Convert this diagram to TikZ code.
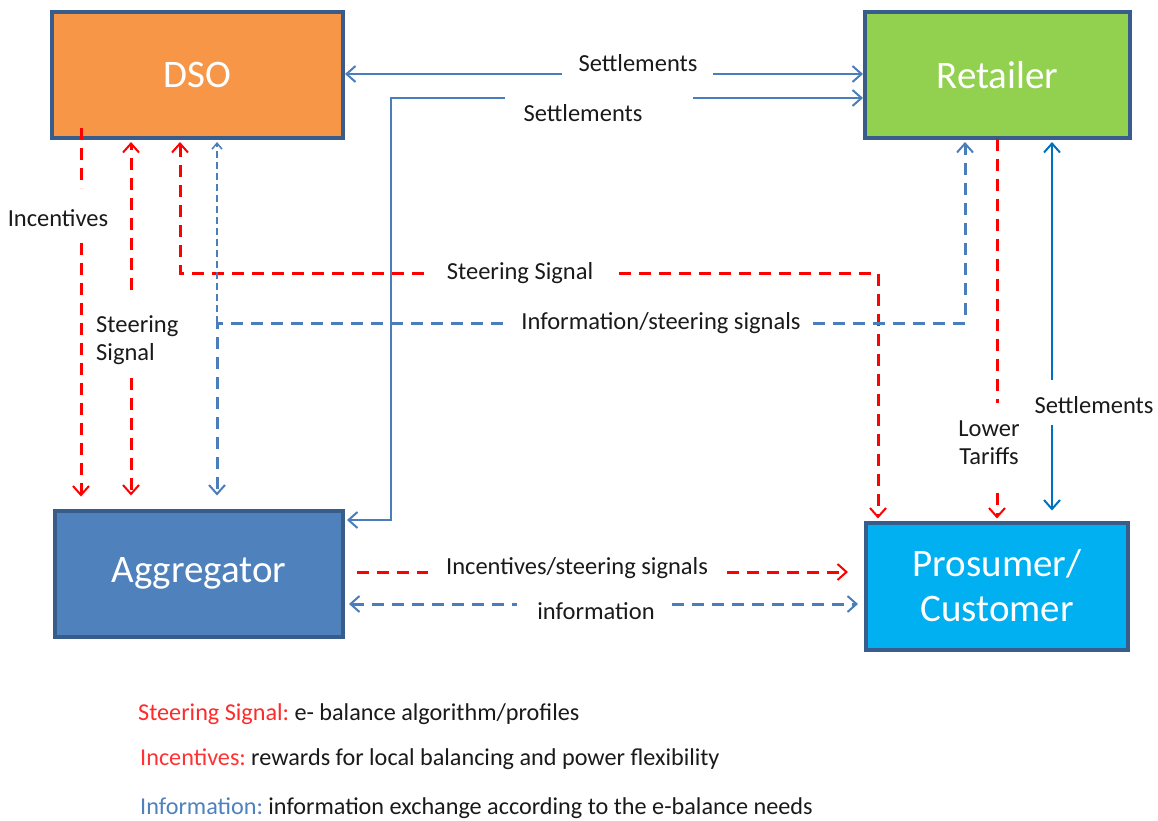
\documentclass[tikz,border=0pt]{standalone}
\usepackage{fontspec}
\setmainfont{Carlito}
\usetikzlibrary{arrows.meta,calc}
\definecolor{frameblue}{HTML}{385D8A}
\definecolor{dsofill}{HTML}{F79646}
\definecolor{retfill}{HTML}{92D050}
\definecolor{aggfill}{HTML}{4F81BD}
\definecolor{profill}{HTML}{00B0F0}
\definecolor{linkblue}{HTML}{4A7EBB}
\definecolor{settleblue}{HTML}{0070C0}
\definecolor{sigred}{HTML}{FF0000}
\definecolor{legred}{HTML}{FF2A2A}
\definecolor{leginc}{HTML}{FF3333}
\definecolor{legblue}{HTML}{4F81BD}
\definecolor{inktext}{HTML}{1A1A1A}
\begin{document}
\begin{tikzpicture}[x=1pt,y=-1pt,
  entity/.style={draw=frameblue, line width=4pt, inner sep=0pt, text=white,
    font=\fontsize{39}{45}\selectfont, align=center},
  tipv/.tip={Straight Barb[length=9pt,width=16pt,line width=2pt]},
  tips/.tip={Straight Barb[length=6pt,width=10pt,line width=1.5pt]},
  settle/.style={draw=linkblue, line width=2.5pt},
  settleR/.style={draw=settleblue, line width=2.5pt},
  sig/.style={draw=sigred, line width=3pt, dash pattern=on 12pt off 8pt},
  info/.style={draw=linkblue, line width=3pt, dash pattern=on 12pt off 8pt},
  infothin/.style={draw=linkblue, line width=1.5pt, dash pattern=on 7pt off 4pt},
  lbl/.style={text=inktext, font=\fontsize{24.5}{27}\selectfont, inner sep=0pt},
  legend/.style={text=inktext, font=\fontsize{24.2}{27}\selectfont, inner sep=0pt, anchor=west}]

\useasboundingbox (0,0) rectangle (1158,821);
\fill[white] (0,0) rectangle (1158,821);

% ---- actors ----
\node[entity, fill=dsofill, minimum width=291pt, minimum height=126pt] (dso) at (197.5,75) {DSO};
\node[entity, fill=retfill, minimum width=265pt, minimum height=126pt] (ret) at (997.5,75) {Retailer};
\node[entity, fill=aggfill, minimum width=288pt, minimum height=126pt] (agg) at (199,573.5) {Aggregator};
\node[entity, fill=profill, minimum width=262pt, minimum height=127pt] (pro) at (997,586) {Prosumer/\\[0pt]Customer};

% ---- labels ----
\node[lbl] (lsetA) at (638,63) {Settlements};
\node[lbl] (lsetB) at (583,113) {Settlements};
\node[lbl] (linc) at (58,218) {Incentives};
\node[lbl, anchor=west, align=left] (lsteer) at (96,340) {Steering\\[1pt]Signal};
\node[lbl] (lsig) at (520,273) {Steering Signal};
\node[lbl] (linfo) at (661,323) {Information/steering signals};
\node[lbl, align=center] (ltar) at (989,443) {Lower\\[1pt]Tariffs};
\node[lbl] (lsetC) at (1094,405) {Settlements};
\node[lbl] (lincsig) at (577,568) {Incentives/steering signals};
\node[lbl] (linf) at (596,611) {information};

% ---- break points around labels ----
\coordinate (a1) at (562,74);   \coordinate (a2) at (713,74);
\coordinate (b1) at (505,98);   \coordinate (b2) at (693,98);   \coordinate (bk) at (391,98);
\coordinate (i0) at (81,128);   \coordinate (i1) at (81,188);   \coordinate (i2) at (81,243);
\coordinate (s1) at (131,290);  \coordinate (s2) at (131,378);
\coordinate (g0) at (180,273);  \coordinate (g1) at (424,273);  \coordinate (g2) at (619,273);  \coordinate (g3) at (878,273);
\coordinate (f0) at (217,323);  \coordinate (f1) at (503,323);  \coordinate (f2) at (813,323);  \coordinate (f3) at (965,323);
\coordinate (t1) at (997,403);  \coordinate (t2) at (997,493);
\coordinate (c1) at (1052,380); \coordinate (c2) at (1052,425);
\coordinate (h1) at (428,572);  \coordinate (h2) at (727,572);
\coordinate (k1) at (517,604);  \coordinate (k2) at (672,604);

% ---- settlements DSO <-> Retailer ----
\draw[settle, tipv-] (dso.east |- a1) -- (a1);
\draw[settle, -tipv] (a2) -- (ret.west |- a2);

% ---- settlements Retailer <-> Aggregator ----
\draw[settle, -tipv] (b2) -- (ret.west |- b2);
\draw[settle, -tipv] (b1) -- (bk) -- (bk |- 0,520) -- ($(agg.east |- 0,520)+(2,0)$);

% ---- incentives DSO -> Aggregator ----
\draw[sig] (i0) -- (i1);
\draw[sig, -tipv] (i2) -- ($(agg.north -| i2)+(0,-12)$);

% ---- steering signal DSO <-> Aggregator ----
\draw[sig, -tipv] (s1) -- ($(dso.south -| s1)+(0,2)$);
\draw[sig, -tipv] (s2) -- ($(agg.north -| s2)+(0,-13)$);

% ---- steering signal DSO <-> Prosumer ----
\draw[sig, -tipv] (g1) -- (g0) -- ($(dso.south -| g0)+(0,2)$);
\draw[sig, -tipv] (g2) -- (g3) -- ($(pro.north -| g3)+(0,-2)$);

% ---- information DSO <-> Aggregator / Retailer ----
\draw[infothin, -tips] (f0) -- ($(dso.south -| f0)+(0,2)$);
\draw[info, -tipv] (f1) -- (f0) -- ($(agg.north -| f0)+(0,-13)$);
\draw[info, -tipv] (f2) -- (f3) -- ($(ret.south -| f3)+(0,2)$);

% ---- lower tariffs Retailer -> Prosumer ----
\draw[sig] ($(ret.south -| t1)+(0,-1)$) -- (t1);
\draw[sig, -tipv] (t2) -- ($(pro.north -| t2)+(0,-2)$);

% ---- settlements Retailer <-> Prosumer ----
\draw[settleR, -tipv] (c1) -- ($(ret.south -| c1)+(0,2)$);
\draw[settleR, -tipv] (c2) -- ($(pro.north -| c2)+(0,-10)$);

% ---- Aggregator <-> Prosumer ----
\draw[sig] ($(agg.east |- h1)+(12,0)$) -- (h1);
\draw[sig, -tipv] (h2) -- ($(pro.west |- h2)+(-16,0)$);
\draw[info, tipv-] ($(agg.east |- k1)+(4,0)$) -- (k1);
\draw[info, -tipv] (k2) -- ($(pro.west |- k2)+(-6,0)$);

% ---- legend ----
\node[legend] (leg1) at (138,714) {\textcolor{legred}{Steering Signal:}\hspace{-2pt} e- balance algorithm/profiles};
\node[legend] (leg2) at (140,759) {\textcolor{leginc}{Incentives:}\hspace{-2pt} rewards for local balancing and power flexibility};
\node[legend] (leg3) at (140,808) {\textcolor{legblue}{Information:}\hspace{-2pt} information exchange according to the e-balance needs};
\end{tikzpicture}
\end{document}
